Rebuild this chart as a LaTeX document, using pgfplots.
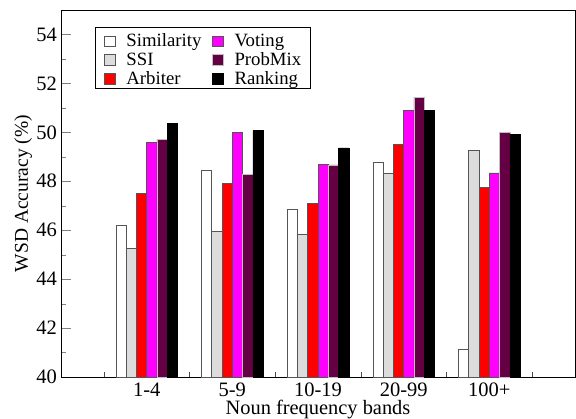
\documentclass[border=0pt]{standalone}
\usepackage{pgfplots}
\pgfplotsset{compat=1.18}
\usepackage{fontspec}
\setmainfont{Liberation Serif}
\definecolor{ssigray}{HTML}{DCDCDC}
\definecolor{probmix}{HTML}{660044}
\definecolor{vmag}{HTML}{FF00FF}
\definecolor{vred}{HTML}{FF0000}
\definecolor{edgegray}{HTML}{555555}
\begin{document}
\begin{tikzpicture}
\begin{axis}[
  name=ax,
  scale only axis,
  width=514pt, height=367pt,
  xmin=0, xmax=6, ymin=40, ymax=55,
  xtick={1,2,3,4,5},
  xticklabels={1-4,5-9,10-19,20-99,100+},
  minor xtick={0.5,1.5,2.5,3.5,4.5,5.5},
  ytick={40,42,...,54},
  minor ytick={41,43,...,55},
  tick pos=left,
  tick align=inside,
  major tick length=10pt,
  minor tick length=5pt,
  x tick style={draw=none},
  minor x tick style={draw=black!70},
  /pgf/number format/assume math mode=true,
  tick label style={font=\fontsize{20.5}{22}\selectfont},
  yticklabel style={inner sep=4pt},
  xticklabel style={inner sep=1.5pt, yshift=-4pt},
  xlabel={Noun frequency bands},
  ylabel={WSD Accuracy (\%)},
  xlabel style={font=\fontsize{20.4}{22}\selectfont, at={(axis description cs:0.5,0)}, anchor=base, yshift=-37pt, inner sep=1pt},
  ylabel style={font=\fontsize{19.5}{21}\selectfont, inner sep=0pt},
  axis line style={line width=0.9pt},
  bar width=0.12,
  legend columns=2,
  legend cell align=left,
  legend style={at={(0.066,0.9537)}, anchor=north west, draw=black, line width=0.8pt,
    font=\fontsize{18.75}{20}\selectfont, row sep=0pt, inner xsep=9pt, inner ysep=2.5pt,
    nodes={inner sep=0pt, text height=17pt, text depth=1.6pt},
    /tikz/every odd column/.append style={column sep=11pt},
    /tikz/every even column/.append style={column sep=11pt}},
  legend image code/.code={\draw[#1, line width=0.6pt] (0pt,-7.5pt) rectangle (10.5pt,3pt);},
]
\addplot[ybar, bar shift=-0.30, fill=white, draw=edgegray, line width=0.6pt] coordinates {(1,46.19) (2,48.43) (3,46.87) (4,48.78) (5,41.14)};
\addlegendentry{Similarity}
\addplot[ybar, bar shift=0.06, fill=vmag, draw=edgegray, line width=0.6pt] coordinates {(1,49.58) (2,50.01) (3,48.70) (4,50.90) (5,48.34)};
\addlegendentry{Voting}
\addplot[ybar, bar shift=-0.18, fill=ssigray, draw=edgegray, line width=0.6pt] coordinates {(1,45.24) (2,45.96) (3,45.85) (4,48.34) (5,49.25)};
\addlegendentry{SSI}
\addplot[ybar, bar shift=0.18, fill=probmix, draw=black!25, line width=0.6pt] coordinates {(1,49.71) (2,48.27) (3,48.67) (4,51.44) (5,50.01)};
\addlegendentry{ProbMix}
\addplot[ybar, bar shift=-0.06, fill=vred, draw=edgegray, line width=0.6pt] coordinates {(1,47.50) (2,47.92) (3,47.09) (4,49.50) (5,47.74)};
\addlegendentry{Arbiter}
\addplot[ybar, bar shift=0.30, fill=black, draw=black, line width=0.6pt] coordinates {(1,50.38) (2,50.07) (3,49.36) (4,50.90) (5,49.90)};
\addlegendentry{Ranking}
\end{axis}
\pgfresetboundingbox
\path ([xshift=-61pt,yshift=-41pt]ax.south west) rectangle ([xshift=1pt,yshift=10pt]ax.north east);
\end{tikzpicture}
\end{document}
